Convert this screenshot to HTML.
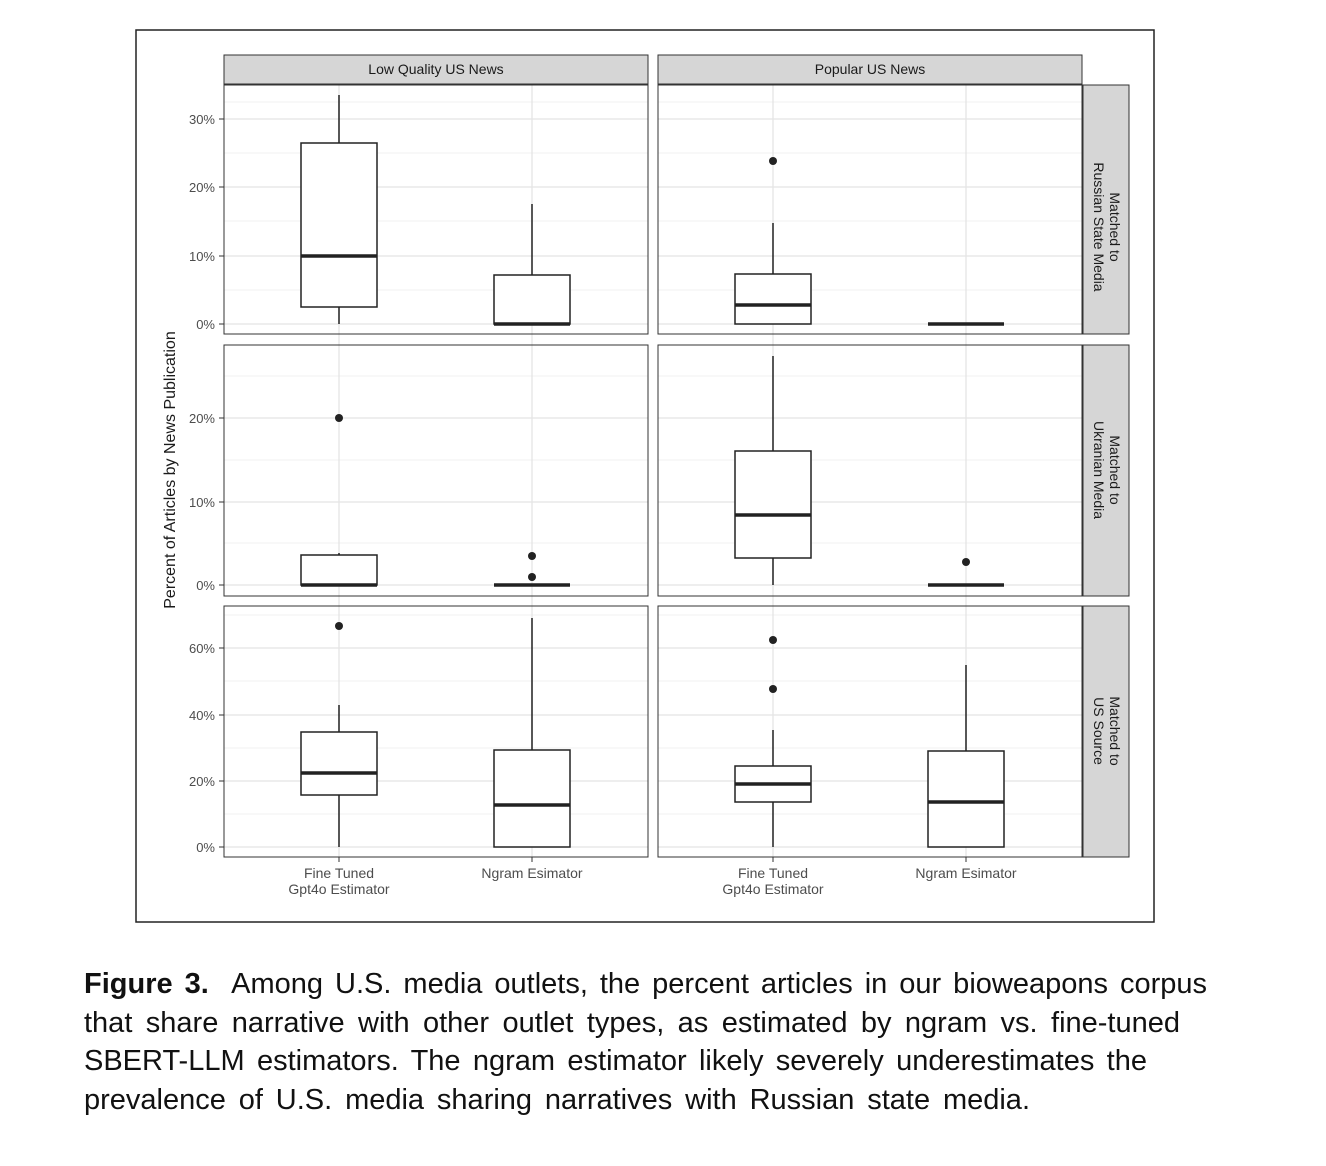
<!DOCTYPE html>
<html><head><meta charset="utf-8"><style>
body{margin:0;background:#fff;width:1326px;height:1166px;overflow:hidden;font-family:"Liberation Sans",sans-serif}
.cap{position:absolute;left:84px;top:965px;font-size:29px;line-height:38.5px;color:#111}
.cap span{display:block;text-align:justify;text-align-last:justify;white-space:nowrap}
</style></head><body>
<svg width="1326" height="1166" style="position:absolute;left:0;top:0" font-family="Liberation Sans, sans-serif">
<rect x="136" y="30" width="1018" height="892" fill="#fff" stroke="#222" stroke-width="1.5"/>
<rect x="224" y="55" width="424" height="29" fill="#d6d6d6" stroke="#333"/>
<text x="436" y="74" font-size="14" text-anchor="middle" fill="#1a1a1a">Low Quality US News</text>
<rect x="658" y="55" width="424" height="29" fill="#d6d6d6" stroke="#333"/>
<text x="870" y="74" font-size="14" text-anchor="middle" fill="#1a1a1a">Popular US News</text>
<g fill="#d6d6d6" stroke="#333">
<rect x="1083" y="85" width="46" height="249"/><rect x="1083" y="345" width="46" height="251"/><rect x="1083" y="606" width="46" height="251"/>
</g>
<g font-size="14" fill="#1a1a1a" text-anchor="middle">
<text transform="translate(1110,227) rotate(90)"><tspan x="0" y="0">Matched to</tspan><tspan x="0" y="16">Russian State Media</tspan></text>
<text transform="translate(1110,470) rotate(90)"><tspan x="0" y="0">Matched to</tspan><tspan x="0" y="16">Ukranian Media</tspan></text>
<text transform="translate(1110,731) rotate(90)"><tspan x="0" y="0">Matched to</tspan><tspan x="0" y="16">US Source</tspan></text>
</g>
<g stroke="#f2f2f2" stroke-width="1">
<line x1="224" x2="648" y1="290" y2="290"/><line x1="224" x2="648" y1="221" y2="221"/><line x1="224" x2="648" y1="153" y2="153"/><line x1="224" x2="648" y1="102" y2="102"/>
<line x1="658" x2="1082" y1="290" y2="290"/><line x1="658" x2="1082" y1="221" y2="221"/><line x1="658" x2="1082" y1="153" y2="153"/><line x1="658" x2="1082" y1="102" y2="102"/>
<line x1="224" x2="648" y1="543" y2="543"/><line x1="224" x2="648" y1="460" y2="460"/><line x1="224" x2="648" y1="376" y2="376"/>
<line x1="658" x2="1082" y1="543" y2="543"/><line x1="658" x2="1082" y1="460" y2="460"/><line x1="658" x2="1082" y1="376" y2="376"/>
<line x1="224" x2="648" y1="814" y2="814"/><line x1="224" x2="648" y1="748" y2="748"/><line x1="224" x2="648" y1="681" y2="681"/><line x1="224" x2="648" y1="615" y2="615"/>
<line x1="658" x2="1082" y1="814" y2="814"/><line x1="658" x2="1082" y1="748" y2="748"/><line x1="658" x2="1082" y1="681" y2="681"/><line x1="658" x2="1082" y1="615" y2="615"/>
</g>
<g stroke="#e4e4e4" stroke-width="1.3">
<line x1="224" x2="648" y1="324" y2="324"/><line x1="224" x2="648" y1="256" y2="256"/><line x1="224" x2="648" y1="187" y2="187"/><line x1="224" x2="648" y1="119" y2="119"/>
<line x1="658" x2="1082" y1="324" y2="324"/><line x1="658" x2="1082" y1="256" y2="256"/><line x1="658" x2="1082" y1="187" y2="187"/><line x1="658" x2="1082" y1="119" y2="119"/>
<line x1="224" x2="648" y1="585" y2="585"/><line x1="224" x2="648" y1="502" y2="502"/><line x1="224" x2="648" y1="418" y2="418"/>
<line x1="658" x2="1082" y1="585" y2="585"/><line x1="658" x2="1082" y1="502" y2="502"/><line x1="658" x2="1082" y1="418" y2="418"/>
<line x1="224" x2="648" y1="847" y2="847"/><line x1="224" x2="648" y1="781" y2="781"/><line x1="224" x2="648" y1="715" y2="715"/><line x1="224" x2="648" y1="648" y2="648"/>
<line x1="658" x2="1082" y1="847" y2="847"/><line x1="658" x2="1082" y1="781" y2="781"/><line x1="658" x2="1082" y1="715" y2="715"/><line x1="658" x2="1082" y1="648" y2="648"/>
<line x1="339" x2="339" y1="85" y2="857"/><line x1="532" x2="532" y1="85" y2="857"/>
<line x1="773" x2="773" y1="85" y2="857"/><line x1="966" x2="966" y1="85" y2="857"/>
</g>
<g fill="none" stroke="#333">
<rect x="224" y="85" width="424" height="249"/><rect x="658" y="85" width="424" height="249"/>
<rect x="224" y="345" width="424" height="251"/><rect x="658" y="345" width="424" height="251"/>
<rect x="224" y="606" width="424" height="251"/><rect x="658" y="606" width="424" height="251"/>
</g>
<g stroke="#333"><line x1="219" x2="224" y1="324" y2="324"/><line x1="219" x2="224" y1="256" y2="256"/><line x1="219" x2="224" y1="187" y2="187"/><line x1="219" x2="224" y1="119" y2="119"/>
<line x1="219" x2="224" y1="585" y2="585"/><line x1="219" x2="224" y1="502" y2="502"/><line x1="219" x2="224" y1="418" y2="418"/>
<line x1="219" x2="224" y1="847" y2="847"/><line x1="219" x2="224" y1="781" y2="781"/><line x1="219" x2="224" y1="715" y2="715"/><line x1="219" x2="224" y1="648" y2="648"/>
<line x1="339" x2="339" y1="857" y2="862"/><line x1="532" x2="532" y1="857" y2="862"/><line x1="773" x2="773" y1="857" y2="862"/><line x1="966" x2="966" y1="857" y2="862"/></g>
<g font-size="13" fill="#4d4d4d" text-anchor="end">
<text x="215" y="329">0%</text><text x="215" y="261">10%</text><text x="215" y="192">20%</text><text x="215" y="124">30%</text>
<text x="215" y="590">0%</text><text x="215" y="507">10%</text><text x="215" y="423">20%</text>
<text x="215" y="852">0%</text><text x="215" y="786">20%</text><text x="215" y="720">40%</text><text x="215" y="653">60%</text>
</g>
<g font-size="14" fill="#4d4d4d" text-anchor="middle">
<text x="339" y="878">Fine Tuned</text><text x="339" y="894">Gpt4o Estimator</text><text x="532" y="878">Ngram Esimator</text>
<text x="773" y="878">Fine Tuned</text><text x="773" y="894">Gpt4o Estimator</text><text x="966" y="878">Ngram Esimator</text>
</g>
<text transform="translate(175,470) rotate(-90)" font-size="16" text-anchor="middle" fill="#1a1a1a">Percent of Articles by News Publication</text>
<g stroke="#222" stroke-width="1.5" fill="#fff">
<line x1="339" x2="339" y1="95" y2="324"/><rect x="301" y="143" width="76" height="164"/>
<line x1="532" x2="532" y1="204" y2="324"/><rect x="494" y="275" width="76" height="49"/>
<line x1="773" x2="773" y1="223" y2="324"/><rect x="735" y="274" width="76" height="50"/>
<line x1="339" x2="339" y1="553" y2="585"/><rect x="301" y="555" width="76" height="30"/>
<line x1="773" x2="773" y1="356" y2="585"/><rect x="735" y="451" width="76" height="107"/>
<line x1="339" x2="339" y1="705" y2="847"/><rect x="301" y="732" width="76" height="63"/>
<line x1="532" x2="532" y1="618" y2="847"/><rect x="494" y="750" width="76" height="97"/>
<line x1="773" x2="773" y1="730" y2="847"/><rect x="735" y="766" width="76" height="36"/>
<line x1="966" x2="966" y1="665" y2="847"/><rect x="928" y="751" width="76" height="96"/>
</g>
<g stroke="#222" stroke-width="3.5">
<line x1="301" x2="377" y1="256" y2="256"/><line x1="494" x2="570" y1="324" y2="324"/><line x1="735" x2="811" y1="305" y2="305"/><line x1="928" x2="1004" y1="324" y2="324"/>
<line x1="301" x2="377" y1="585" y2="585"/><line x1="494" x2="570" y1="585" y2="585"/><line x1="735" x2="811" y1="515" y2="515"/><line x1="928" x2="1004" y1="585" y2="585"/>
<line x1="301" x2="377" y1="773" y2="773"/><line x1="494" x2="570" y1="805" y2="805"/><line x1="735" x2="811" y1="784" y2="784"/><line x1="928" x2="1004" y1="802" y2="802"/>
</g>
<g fill="#222">
<circle cx="773" cy="161" r="4"/><circle cx="339" cy="418" r="4"/><circle cx="532" cy="556" r="4"/><circle cx="532" cy="577" r="4"/><circle cx="966" cy="562" r="4"/>
<circle cx="339" cy="626" r="4"/><circle cx="773" cy="640" r="4"/><circle cx="773" cy="689" r="4"/>
</g>
</svg>
<div class="cap">
<span style="width:1123px"><b>Figure 3.</b>&nbsp; Among U.S. media outlets, the percent articles in our bioweapons corpus</span>
<span style="width:1096px">that share narrative with other outlet types, as estimated by ngram vs. fine-tuned</span>
<span style="width:1063px">SBERT-LLM estimators. The ngram estimator likely severely underestimates the</span>
<span style="width:946px">prevalence of U.S. media sharing narratives with Russian state media.</span>
</div>
</body></html>
